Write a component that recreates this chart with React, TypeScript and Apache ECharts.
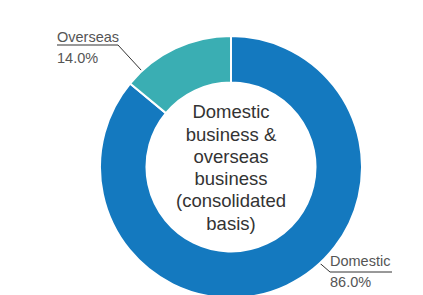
import React, { useEffect, useRef } from "react";
import * as echarts from "echarts";

const categories = ["Domestic", "Overseas"];
const shares = [86.0, 14.0];
const sliceColors = ["#1479BF", "#3AAEB3"];
const centerLines = ["Domestic", "business &", "overseas", "business", "(consolidated", "basis)"];

// label leader layout (pixel positions of the callouts)
const labelAnchors = [
  { line: [[307, 252], [330, 272], [392, 272]], x: 330, y: 271 },
  { line: [[153, 83], [118, 45], [57, 45]], x: 57, y: 47 },
];

export default function App() {
  const ref = useRef<HTMLDivElement>(null);
  useEffect(() => {
    if (!ref.current) return;
    const chart = echarts.init(ref.current, undefined, { renderer: "svg" });
    chart.setOption({
      animation: false,
      graphic: [
        {
          type: "text",
          x: 231,
          y: 167.5,
          style: {
            text: centerLines.join("\n"),
            fontFamily: "Liberation Sans, Arial, sans-serif",
            fontSize: 18.5,
            lineHeight: 22.3,
            fill: "#333",
            align: "center",
            verticalAlign: "middle",
          },
        },
      ],
      series: [
        {
          type: "pie",
          center: [231, 167],
          radius: [84.5, 131],
          startAngle: 90,
          clockwise: true,
          itemStyle: { borderColor: "#fff", borderWidth: 2 },
          label: {
            show: true,
            formatter: (p: any) => `{n|${p.name}}\n{p|${p.value.toFixed(1)}%}`,
            fontFamily: "Liberation Sans, Arial, sans-serif",
            rich: {
              n: { fontSize: 14.5, lineHeight: 21, color: "#555", fontFamily: "Liberation Sans, Arial, sans-serif" },
              p: { fontSize: 14.5, lineHeight: 21, color: "#555", fontFamily: "Liberation Sans, Arial, sans-serif" },
            },
          },
          labelLine: { show: true, lineStyle: { color: "#333", width: 1 } },
          labelLayout: (params: any) => {
            const a = labelAnchors[params.dataIndex];
            return {
              x: a.x,
              y: a.y,
              align: "left",
              verticalAlign: "middle",
              labelLinePoints: a.line,
            };
          },
          data: categories.map((c, i) => ({
            name: c,
            value: shares[i],
            itemStyle: { color: sliceColors[i] },
          })),
        },
      ],
    });
    return () => chart.dispose();
  }, []);
  return <div ref={ref} style={{ position: "absolute", left: 0, top: 0, width: 423, height: 295 }} />;
}
